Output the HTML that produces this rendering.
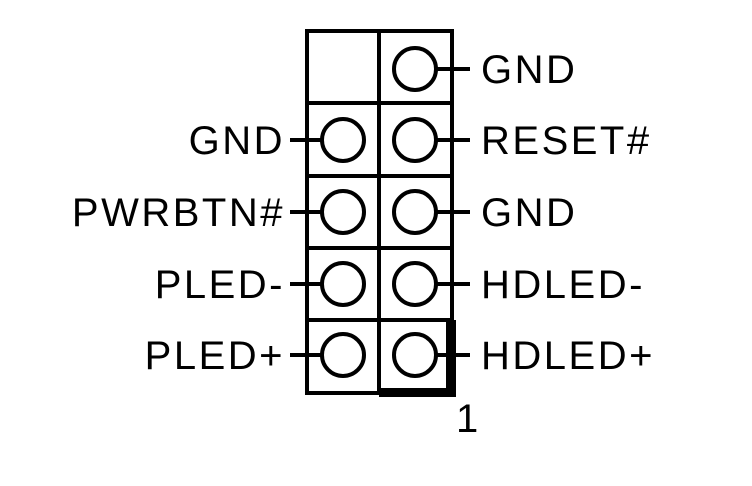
<!DOCTYPE html>
<html><head><style>html,body{margin:0;padding:0;background:#fff}svg{display:block}text{font-family:"Liberation Sans",Arial,sans-serif;font-size:40px;letter-spacing:2.5px;fill:#000}</style></head>
<body>
<svg width="752" height="486" viewBox="0 0 752 486" xmlns="http://www.w3.org/2000/svg">
<g stroke="#000" stroke-width="4" fill="none">
<rect x="307" y="31" width="145" height="362"/>
<line x1="379" y1="31" x2="379" y2="393"/>
<line x1="307" y1="103" x2="452" y2="103"/>
<line x1="307" y1="176" x2="452" y2="176"/>
<line x1="307" y1="248" x2="452" y2="248"/>
<line x1="307" y1="320" x2="452" y2="320"/>
<circle cx="415" cy="69" r="21"/>
<circle cx="343" cy="140" r="21"/><circle cx="415" cy="140" r="21"/>
<circle cx="343" cy="212" r="21"/><circle cx="415" cy="212" r="21"/>
<circle cx="343" cy="284" r="21"/><circle cx="415" cy="284" r="21"/>
<circle cx="343" cy="355" r="21"/><circle cx="415" cy="355" r="21"/>
<line x1="436" y1="69" x2="470" y2="69"/>
<line x1="436" y1="140" x2="470" y2="140"/>
<line x1="436" y1="212" x2="470" y2="212"/>
<line x1="436" y1="284" x2="470" y2="284"/>
<line x1="436" y1="355" x2="470" y2="355"/>
<line x1="290" y1="140" x2="322" y2="140"/>
<line x1="290" y1="212" x2="322" y2="212"/>
<line x1="290" y1="284" x2="322" y2="284"/>
<line x1="290" y1="355" x2="322" y2="355"/>
</g>
<rect x="446" y="320" width="10" height="77" fill="#000"/>
<rect x="379" y="388" width="77" height="9" fill="#000"/>
<text x="481" y="83">GND</text>
<text x="481" y="154">RESET#</text>
<text x="481" y="226">GND</text>
<text x="481" y="298">HDLED-</text>
<text x="481" y="369">HDLED+</text>
<g text-anchor="end">
<text x="285" y="154">GND</text>
<text x="285" y="226">PWRBTN#</text>
<text x="285" y="298">PLED-</text>
<text x="285" y="369">PLED+</text>
</g>
<text x="456" y="432">1</text>
</svg>
</body></html>
